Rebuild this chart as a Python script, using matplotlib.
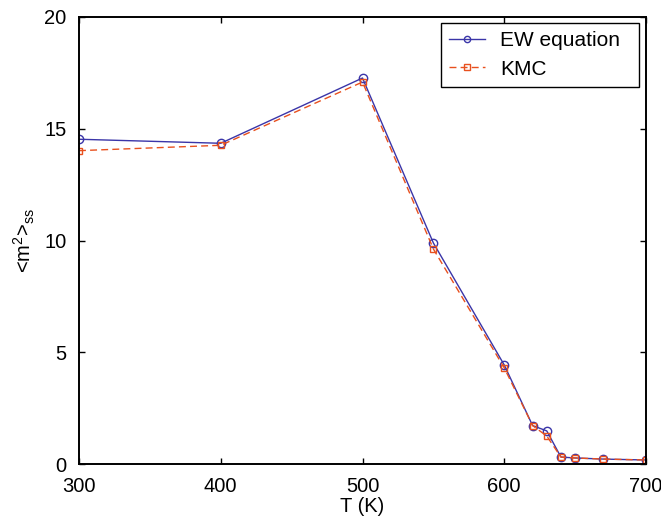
import matplotlib
matplotlib.use("Agg")
import matplotlib.pyplot as plt

plt.rcParams['font.family'] = ['Liberation Sans', 'DejaVu Sans']
plt.rcParams['mathtext.fontset'] = 'custom'
plt.rcParams['mathtext.rm'] = 'Liberation Sans'
plt.rcParams['mathtext.it'] = 'Liberation Sans'

T = [300, 400, 500, 550, 600, 620, 630, 640, 650, 670, 700]
ew = [14.53, 14.35, 17.27, 9.89, 4.43, 1.72, 1.48, 0.31, 0.27, 0.22, 0.18]
kmc = [14.02, 14.26, 17.09, 9.62, 4.3, 1.72, 1.25, 0.31, 0.27, 0.22, 0.18]

fig = plt.figure(figsize=(6.61, 5.28), dpi=100)
ax = fig.add_axes([79/661, 1-464/528, (646-79)/661, (464-17)/528])

ax.plot(T, ew, '-', color='#3a35a8', lw=1.0, marker='o', ms=6, mfc='none',
        mec='#3a35a8', mew=1.0, label='EW equation')
ax.plot(T, kmc, '--', color='#e8501e', lw=1.0, marker='s', ms=5, mfc='none',
        mec='#e8501e', mew=1.0, label='KMC', dashes=(5, 3))

ax.set_xlim(300, 700)
ax.set_ylim(0, 20)
ax.set_xticks([300, 400, 500, 600, 700])
ax.set_yticks([0, 5, 10, 15, 20])
ax.tick_params(direction='in', top=True, right=True, labelsize=14.5, length=4, width=1)
ax.tick_params(axis='x', pad=9)
ax.tick_params(axis='y', pad=9)
for s in ax.spines.values():
    s.set_linewidth(1.4)
ax.set_xlabel('T (K)', fontsize=14.5, labelpad=1)
ax.set_ylabel(r'<m$^2$>$_{ss}$', fontsize=14.5, labelpad=5)

leg = ax.legend(loc='upper left', mode='expand',
                bbox_to_anchor=(0.6384, 0.8412, 0.9877 - 0.6384, 0.9866 - 0.8412),
                borderaxespad=0, fontsize=15, fancybox=False, framealpha=1,
                edgecolor='black', handlelength=1.73,
                handletextpad=0.72, borderpad=0.4, labelspacing=0.45,
                markerscale=0.75)
leg.get_frame().set_linewidth(1.0)

fig.savefig('out.png', dpi=100)
